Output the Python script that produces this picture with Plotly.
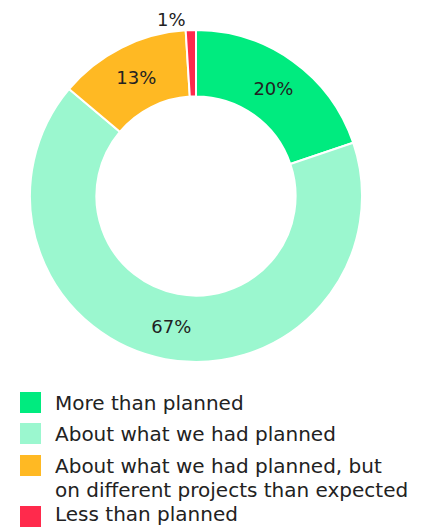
import plotly.graph_objects as go

labels = ["More than planned", "About what we had planned",
          "About what we had planned, but<br>on different projects than expected",
          "Less than planned"]
values = [20, 67, 13, 1]
colors = ["#00EB7F", "#9BF7CF", "#FFB923", "#FF2A4C"]
text_pos = ["inside", "inside", "inside", "outside"]

W, H = 434, 527
FONT = "DejaVu Sans, sans-serif"

fig = go.Figure()
fig.add_trace(go.Pie(
    labels=labels, values=values, hole=0.6, sort=False, direction="clockwise",
    rotation=0,
    marker=dict(colors=colors, line=dict(color="white", width=2)),
    texttemplate="%{value}%", textposition=text_pos,
    insidetextorientation="horizontal",
    textfont=dict(size=18, color="#222222", family=FONT),
    domain=dict(x=[30 / W, 362 / W], y=[1 - 362 / H, 1 - 30 / H]),
    showlegend=False, hoverinfo="label+value",
))

# manual legend
tops = [392, 423, 455, 506]
LINE = 24
BOX = 26
shapes, annos = [], []
for lab, col, t in zip(labels, colors, tops):
    shapes.append(dict(type="rect", xref="paper", yref="paper",
                       x0=20 / W, x1=41 / W, y0=1 - (t + 21) / H, y1=1 - t / H,
                       fillcolor=col, line=dict(width=0)))
    for i, line in enumerate(lab.split("<br>")):
        top = min(t - 2 + i * LINE, H - BOX)
        annos.append(dict(xref="paper", yref="paper", x=54 / W,
                          y=1 - top / H, borderpad=0,
                          xanchor="left", yanchor="top", align="left", showarrow=False,
                          text=line, font=dict(size=20, color="#222222", family=FONT)))

fig.update_layout(width=W, height=H, margin=dict(l=0, r=0, t=0, b=0),
                  paper_bgcolor="white", plot_bgcolor="white",
                  shapes=shapes, annotations=annos)
fig.write_html("out.html")
